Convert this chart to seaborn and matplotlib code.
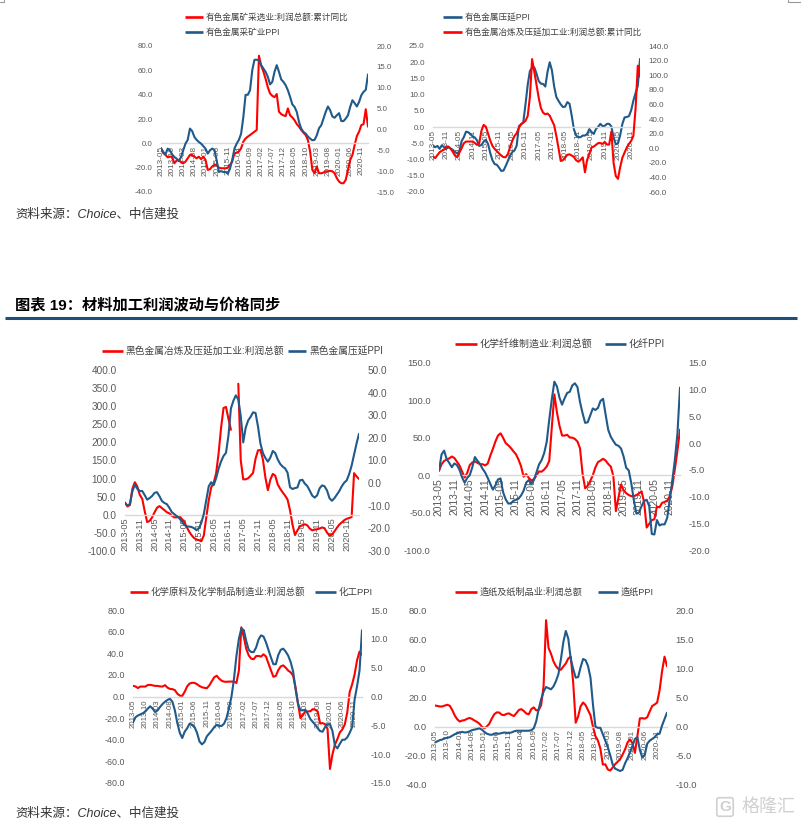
import numpy as np
import pandas as pd
import matplotlib
matplotlib.use('Agg')
import matplotlib.pyplot as plt
import seaborn as sns

nan = np.nan

# ---- data (monthly from 2013-05) ----
c1_profit = [-4, -8, -9.5, -11.5, -11, -11, -16.4, -14.2, -13.6, -15.6,
             -16.4, -15, -12.3, -9.6, -9.6, -11, -12.3, -11, -13, -11,
             -13.6, -21.8, -21.3, -19, -17.7, -17.7, -20, -20.5, -20.5, -20.5,
             -20, -17.7, -15, -8.2, -7.6, -6.8, -4, 1.4, 4, 5.5,
             6.8, 8.2, 9.6, 11, 72, 64, 59, 53, 46, 41,
             39, 38, 40.5, 26, 24, 23, 22.4, 28.7, 23, 21.3,
             19, 15.8, 13.7, 11, 8.7, 6.8, 2.7, -6.8, -21.8, -24.6,
             -19, -24.6, -24.6, -24, -23, -23, -22.6, -23, -24.6, -28.7,
             -31.4, -32.8, -32.8, -30, -21.8, -13.7, -9.6, -1.4, 6, 9.6,
             15, 15.8, 28, 13.7]
c1_ppi = [-4.5, -5.4, -6, -4.6, -5, -6, -6.6, -7, -7.6, -6.6,
          -5, -3.4, -2.5, 0.2, -0.4, -1.8, -2.5, -3, -3.4, -4,
          -4.6, -5.8, -5, -4.6, -4.9, -7.4, -10.2, -10, -10.2, -10.2,
          -10.6, -9.4, -7.3, -4.6, -3.4, -2.5, -1, 3, 8.3, 8.3,
          9.4, 14.2, 16.7, 16.7, 16.6, 15.4, 14.6, 13.8, 12.6, 10.8,
          11.4, 13.8, 15.4, 13.8, 12, 11.4, 10.6, 9.4, 7.8, 6,
          5.4, 4.2, 1.8, 0.2, -0.6, -1, -1.7, -2.2, -2.6, -2.5,
          -1.4, 0.3, 1, 2.6, 4.2, 5.5, 4.6, 3.1, 2.8, 3.4,
          3.9, 2, 2, 2.6, 3.4, 5.4, 7, 6.3, 5.5, 6.6,
          8.2, 9, 9.5, 13.2]

c2_ppi = [-5.7, -6.2, -5.8, -6.7, -5.6, -6.2, -6.7, -6.2, -6.6, -7,
          -7.7, -8.1, -7.4, -4.3, -3.1, -1.4, -1.6, -2.1, -2.9, -3.2,
          -4.1, -5.8, -5.5, -4.5, -3.9, -5.2, -8, -10.2, -11.4, -11.6,
          -12.5, -13.5, -13.4, -12, -10.4, -8.8, -7.7, -7.2, -5.7, 0.3,
          0.8, 1.5, 7, 13, 17.3, 18.3, 18.4, 16.5, 14.2, 13.4,
          13.3, 12.5, 17, 20, 17.5, 12.6, 9.3, 8.1, 7, 6.2,
          6.3, 7.7, 7.2, 3.5, -0.7, -2.6, -3.1, -3.1, -2.6, -2.6,
          -2.1, -0.6, -1.5, -2.1, -0.6, 0.1, 1, 0.3, 0.4, 1,
          1, 0.2, -3.2, -5.3, -5, -2.5, 1, 3, 3.1, 3.4,
          5.2, 8.2, 10.5, 12.7, 21]
c2_profit = [-11.4, -13.5, -9.5, -5.5, -3.5, -2, 2.3, 2.3, -0.7, -5,
             -10.3, -12, -6, 0, 6.8, 9.1, 9.1, 9.1, 9.1, 7.2,
             4.4, 7, 24, 31.9, 29.5, 20, 10.5, 3, -1, -4,
             -7.2, -10, -12.3, -12.3, -8, 1.5, 10, 16.7, 20.5, 28,
             33, 35, 37.5, 44, 70, 122, 105, 87, 69, 55,
             48.7, 46.5, 47.5, 44.5, 38, 31.6, 17, 0, -17.5, -16.5,
             -12.8, -9, -8.4, -10, -12, -16.5, -18.5, -16, -12.5, -33,
             -16, -7.8, 1, 2.3, 4.5, 7, 7, 6, 8.5, 5,
             5, 23, -20, -38, -42, -26, -13, -6, 1, 6,
             10, 17, 55, 113, 98]

c3_profit = [34, 23, 27, 72, 90, 78, 55, 44, 10, -20,
             -17, -7, 7, 19.5, 24, 18.5, 13, 7, 4, -2.5,
             -7, -7, -3, -11, -19, -33, -46, -56, -64, -68,
             -70, -73, -57, -7, 40, 76, 88, 115, 170, 240,
             295, 298, 265, 235, nan, nan, 362, 150, 98, 98,
             101, 108, 116, 155, 178, 179, 152, 103, 68, 97,
             113, 108, 84, 72, 62, 53, 42, 12, -27, -56,
             -43, -32, -29, -26, -29, -38, -43, -41, -40, -38,
             -35, -37, -49, -57, -55, -46, -36, -27, -21, -15,
             -11, -9, -6, 115, 106, 99]
c3_ppi = [-8.9, -9.9, -9.2, -3.6, -0.7, -2.5, -3.5, -3.5, -5.3, -7.3,
          -6.6, -5.7, -4.3, -4, -5.8, -7.9, -8.8, -9.3, -10.9, -12.8,
          -13.7, -14.6, -15.5, -16.8, -18.4, -19.1, -19.2, -19.4, -19.9, -20.8,
          -20, -17.5, -13.6, -7.5, -1.4, 0.4, -0.9, 2.2, 6.4, 9.6,
          12, 13.4, 21, 33, 36.4, 38.8, 37, 29.5, 18, 24.5,
          27.7, 29.3, 31.3, 31, 25, 17.4, 13.3, 11.1, 9.5, 11.3,
          14.2, 13.3, 10.5, 8.5, 7.3, 6.5, 4.6, -1.8, -2.6, -2.2,
          -1.9, 1.2, 1.5, -0.2, -1.3, -3.3, -5.5, -6.4, -5.4, -2.3,
          -1, -1.4, -3.2, -6.6, -7.8, -6.7, -5.1, -3.5, -1.4, 0.2,
          1.2, 4, 7.7, 12.6, 17.5, 21.8]

c4_profit = [5.8, 14.7, 19, 21, 22.5, 25, 23, 18, 13, 5,
             -3, 3, 13.5, 17, 18.5, 16.5, 14.7, 14.7, 13, 15.5,
             26, 35, 45, 53, 56, 50, 43, 40, 36.5, 32,
             28, 21, 12, -2, 1.5, -3.5, -7, -5.5, -0.5, 5,
             4.7, 7.5, 11.6, 19, 64, 108, 84, 66, 53, 53,
             54, 50.4, 50.2, 48.5, 45, 36, 2, -17.5, -14, -7.7,
             0, 10.5, 17.5, 19.5, 22, 19.5, 15, 11.5, -1, -48,
             -30, -12.5, -20, -24, -26.5, -28, -28.3, -26.5, -24.5, -21.5,
             -36, -70, -65, -60, -59, -42, -43, -37, -35.7, -34.3,
             -28, -15, 8, 33, 61]
c4_ppi = [-5.1, -2.1, -1.4, -3, -3.7, -4.5, -3.8, -4.1, -5, -6.4,
          -7.4, -6.5, -6, -4.5, -2.6, -3.3, -3.9, -4.8, -5.5, -6.5,
          -7.6, -8.7, -7.9, -6.8, -6.6, -9.2, -10.5, -11.3, -11.3, -10.8,
          -10.6, -10.4, -9.8, -8.9, -7.4, -6.9, -7.7, -6.9, -5.5, -4,
          -3.2, -1.9, 0.2, 4.4, 8.2, 11.5, 10.6, 8.5, 7.2, 8.4,
          9.4, 9.6, 10.8, 11.2, 10.5, 7.7, 5.6, 3.8, 3.9, 5.2,
          6.5, 6.2, 6.6, 7.9, 8.3, 5.3, 2.5, 1.2, 0.4, -0.3,
          -0.5, -1, -2.5, -4.6, -5.1, -7.5, -10.7, -13.2, -13, -11.8,
          -10.8, -10.6, -11.8, -17, -17.1, -14.4, -15.4, -15.2, -15.2, -14,
          -10.6, -7, -3.1, 1.8, 10.4]

c5_profit = [9.8, 9.3, 7.8, 9.2, 9.2, 9.2, 10.6, 10.8, 10.3, 9.8,
             9.8, 9.3, 9.2, 10.5, 8.2, 7, 6.8, 5.9, 2.6, 0.8,
             0.6, 4.4, 9.4, 12, 12.7, 12.6, 11.4, 9.7, 8.6, 8,
             7.7, 10.3, 14.1, 17.8, 19.2, 16.5, 14.6, 13.7, 13.6, 13.8,
             13.8, 13.8, 12.5, 24, 64, 55, 44, 38, 35, 34.5,
             37.4, 37.5, 36.9, 39, 37, 30.6, 24.4, 18.3, 19, 24.4,
             27.8, 28.8, 26.7, 24, 22.4, 19.4, 8.6, -6.5, -20, -17,
             -13.8, -13.8, -13.7, -11.7, -12.2, -13.8, -25, -24.6, -25.6, -29.8,
             -67, -53.5, -44.5, -39.4, -33.2, -30.5, -26, -14.8, 4.2, 11.3,
             20.5, 33.6, 41.5, 38.5]
c5_ppi = [-4.5, -3.6, -3.3, -3.1, -2.9, -2.6, -2.1, -1.7, -2.1, -2.7,
          -2.4, -1.8, -1.3, -0.9, -0.6, -0.4, -0.9, -2.4, -4.6, -6.3,
          -7.2, -6.1, -5.5, -4.7, -4.9, -5.3, -6.3, -7.8, -8.3, -7.9,
          -6.9, -6.4, -5.9, -5.3, -4.9, -5.1, -5.1, -4.7, -3.7, -2,
          0, 3, 7, 10, 11.8, 11.5, 9.6, 8.1, 7.7, 7.7,
          8.5, 9.9, 10.6, 10.4, 9.4, 8.1, 6.8, 5.6, 5.6, 7.2,
          8.1, 8.3, 7.8, 7.1, 6, 4.4, 1.3, -1.2, -2.4, -2.4,
          -2.3, -3, -3.9, -4.4, -4.9, -5.5, -6, -6.1, -5.3, -4.8,
          -4.8, -6, -8.5, -9, -8.2, -7.5, -7.5, -7.1, -6.3, -5.3,
          -0.5, 1.8, 4.5, 11.5]

c6_profit = [14.5, 14.2, 13.8, 13.9, 14.5, 15, 14.3, 11.4, 7.7, 5.1,
             3.5, 4.2, 4.5, 5.4, 6, 5.3, 4.2, 3.3, 2, 0,
             -1, 0.1, 2, 5.5, 8.5, 9.8, 9.7, 8.2, 7.9, 8.8,
             9.1, 8, 7.3, 9.3, 11.5, 12, 10.7, 9, 8.5, 12,
             13.2, 11.2, 11.4, 14.7, 28, 73, 54, 50, 44.8, 41.5,
             39.5, 39, 41.3, 43.3, 46.8, 48, 30, 2.7, 7, 14,
             16.6, 14.8, 11.3, 7.8, 0, -6.5, -9.5, -15, -26, -25.8,
             -29.3, -30.1, -28, -25.7, -24.1, -22.3, -19.2, -15.6, -10.9, -8.7,
             -11.3, -18, -6.5, 5.7, 5.8, 5.5, 6.5, 10.5, 14.2, 15.2,
             16.5, 25, 38, 48, 41.4]
c6_ppi = [-2.7, -2.5, -2.3, -2.2, -2, -1.9, -1.8, -1.55, -1.3, -1.1,
          -1, -0.9, -1, -0.95, -0.8, -0.6, -0.5, -0.4, -0.3, -0.5,
          -0.9, -1.2, -1.35, -1.4, -1.2, -1.2, -1.2, -1.1, -1, -1.05,
          -1.05, -1, -0.8, -0.7, -0.7, -0.7, -0.7, -0.7, -0.7, -0.6,
          -0.3, 0.9, 3, 4.7, 6, 6.8, 6.6, 6.4, 6.9, 7.8,
          9, 11.5, 14.5, 16.4, 15.1, 11.6, 9.9, 8.4, 8.5, 10.2,
          11.6, 11.4, 10.4, 8.4, 3.8, 0, -0.2, -0.2, -1.3, -2.4,
          -3.5, -4.9, -6.5, -7.2, -7.4, -7.6, -7.4, -6.3, -5.4, -4.4,
          -3.3, -2.1, -1.8, -4, -5.3, -4.8, -2.9, -2.4, -2.1, -1.8,
          -1.3, -1.2, 0.2, 1.3, 2.4]

labels = {
    'c1_profit': '有色金属矿采选业:利润总额:累计同比',
    'c1_ppi': '有色金属采矿业PPI',
    'c2_ppi': '有色金属压延PPI',
    'c2_profit': '有色金属冶炼及压延加工业:利润总额:累计同比',
    'c3_profit': '黑色金属冶炼及压延加工业:利润总额',
    'c3_ppi': '黑色金属压延PPI',
    'c4_profit': '化学纤维制造业:利润总额',
    'c4_ppi': '化纤PPI',
    'c5_profit': '化学原料及化学制品制造业:利润总额',
    'c5_ppi': '化工PPI',
    'c6_profit': '造纸及纸制品业:利润总额',
    'c6_ppi': '造纸PPI',
}

RED = '#FF0000'
BLUE = '#1F5A8A'
GREY = '#595959'

sns.set_theme(style='white')
plt.rcParams['font.family'] = ['Liberation Sans', 'Noto Sans CJK SC', 'DejaVu Sans']
plt.rcParams['axes.unicode_minus'] = False

W, H = 801, 827
fig = plt.figure(figsize=(W / 100, H / 100), dpi=100)
fig.patch.set_facecolor('white')


def draw_line(ax, values, color):
    s = pd.Series(values, dtype=float)
    ok = s.notna()
    runs = (~ok).cumsum()
    for _, seg in s[ok].groupby(runs[ok]):
        sns.lineplot(x=seg.index, y=seg.values, ax=ax, color=color, lw=1.5)


def chart(box, left_vals, left_color, left_lim, left_step,
          right_vals, right_color, right_lim, right_step, step, xfs, yfs):
    l, r, t, b = box
    ax = fig.add_axes([l / W, 1 - b / H, (r - l) / W, (b - t) / H])
    ax.patch.set_alpha(0)
    n = len(left_vals)
    months = pd.date_range('2013-05', periods=n, freq='MS').strftime('%Y-%m')
    draw_line(ax, left_vals, left_color)

    ax2 = ax.twinx()
    draw_line(ax2, right_vals, right_color)

    # primary axis (left)
    ax.set_xlim(0, n - 1)
    ax.set_ylim(*left_lim)
    lt = np.arange(left_lim[0], left_lim[1] + 0.01, left_step)
    ax.set_yticks(lt)
    ax.set_yticklabels([f'{v:.1f}' for v in lt])
    ticks = list(range(0, n, step))
    ax.set_xticks(ticks)
    ax.set_xticklabels([months[i] for i in ticks])
    for side in ['left', 'right', 'top']:
        ax.spines[side].set_visible(False)
    ax.spines['bottom'].set_position(('data', 0))
    ax.spines['bottom'].set_color('#D9D9D9')
    ax.spines['bottom'].set_linewidth(1)
    ax.tick_params(axis='x', length=0, pad=2, labelsize=xfs, labelcolor=GREY,
                   labelrotation=90)
    ax.tick_params(axis='y', length=0, pad=6, labelsize=yfs, labelcolor=GREY)
    ax.set_xlabel('')
    ax.set_ylabel('')
    ax.grid(False)

    # secondary axis (right)
    ax2.set_ylim(*right_lim)
    rt = np.arange(right_lim[0], right_lim[1] + 0.01, right_step)
    ax2.set_yticks(rt)
    ax2.set_yticklabels([f'{v:.1f}' for v in rt])
    for side in ['left', 'right', 'top', 'bottom']:
        ax2.spines[side].set_visible(False)
    ax2.tick_params(axis='y', length=0, pad=6, labelsize=yfs, labelcolor=GREY)
    ax2.set_ylabel('')
    ax2.grid(False)
    for lab in ax.get_xticklabels():
        lab.set_rotation(90)
        lab.set_va('top')
        lab.set_ha('center')
    return ax, ax2


chart((161, 368, 46, 192), c1_profit, RED, (-40, 80), 20,
      c1_ppi, BLUE, (-15, 20), 5, 5, 5.9, 5.7)
chart((433, 640, 46, 192), c2_ppi, BLUE, (-20, 25), 5,
      c2_profit, RED, (-60, 140), 20, 6, 5.9, 5.8)
chart((125, 359, 370, 551), c3_profit, RED, (-100, 400), 50,
      c3_ppi, BLUE, (-30, 50), 10, 6, 6.6, 7.2)
chart((439, 680, 363, 550), c4_profit, RED, (-100, 150), 50,
      c4_ppi, BLUE, (-20, 15), 5, 6, 7.4, 6.8)
chart((133, 362, 610, 783), c5_profit, RED, (-80, 80), 20,
      c5_ppi, BLUE, (-15, 15), 5, 5, 5.6, 6.4)
chart((435, 667, 610, 785), c6_profit, RED, (-40, 80), 20,
      c6_ppi, BLUE, (-10, 20), 5, 5, 5.9, 6.8)

# ---- overlay for legends, captions, title ----
ov = fig.add_axes([0, 0, 1, 1])
ov.set_xlim(0, W)
ov.set_ylim(H, 0)
ov.axis('off')
ov.patch.set_alpha(0)


def legend_item(x0, x1, y, color, text, fs):
    ov.plot([x0, x1], [y, y], color=color, lw=1.9, solid_capstyle='butt')
    ov.text(x1 + 3, y, text, fontsize=fs, va='center', ha='left', color='#404040')


legend_item(185, 203, 17, RED, labels['c1_profit'], 6.2)
legend_item(185, 203, 32, BLUE, labels['c1_ppi'], 6.2)
legend_item(443, 462, 17, BLUE, labels['c2_ppi'], 6.2)
legend_item(443, 462, 32, RED, labels['c2_profit'], 6.2)
legend_item(102, 123, 351, RED, labels['c3_profit'], 7)
legend_item(288, 306, 351, BLUE, labels['c3_ppi'], 7)
legend_item(455, 477, 344, RED, labels['c4_profit'], 7.2)
legend_item(605, 626, 344, BLUE, labels['c4_ppi'], 7.2)
legend_item(130, 148, 592, RED, labels['c5_profit'], 6.8)
legend_item(315, 336, 592, BLUE, labels['c5_ppi'], 6.8)
legend_item(455, 477, 592, RED, labels['c6_profit'], 6.6)
legend_item(598, 618, 592, BLUE, labels['c6_ppi'], 6.6)

source = '资料来源：Choice、中信建投'
ov.text(15, 215, source, fontsize=9, style='italic', va='center', color='#333333')
ov.text(15, 814, source, fontsize=9, style='italic', va='center', color='#333333')

ov.text(15, 305, '图表 19：材料加工利润波动与价格同步', fontsize=11, fontweight='bold',
        va='center', color='black')
ov.plot([5, 797], [318, 318], color='#1F4E79', lw=2.2, solid_capstyle='butt')

# small border marks at the top corners of the screenshot
ov.plot([0, 4, 4], [2, 2, 0], color='#999999', lw=0.8)
ov.plot([788, 788, 801], [0, 2, 2], color='#999999', lw=0.8)

# watermark
ov.text(725, 807, 'G', fontsize=11, color='#d0d0d0', ha='center', va='center', fontweight='bold',
        bbox=dict(boxstyle='round,pad=0.15', fc='none', ec='#d0d0d0', lw=1.2))
ov.text(742, 807, '格隆汇', fontsize=13, color='#d0d0d0', ha='left', va='center')

fig.savefig('out.png', dpi=100, facecolor='white')
